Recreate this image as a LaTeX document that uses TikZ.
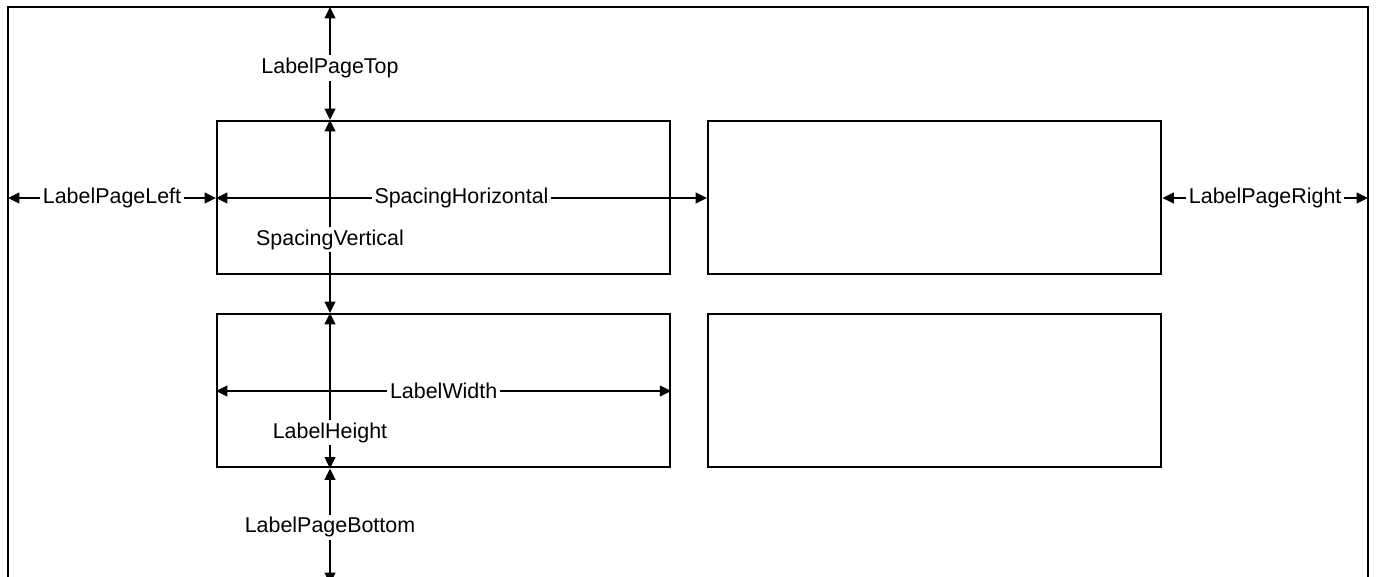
\documentclass[tikz,border=0pt]{standalone}
\usepackage{fontspec}
\setmainfont{Liberation Sans}
\usetikzlibrary{arrows.meta}
\tikzset{
  frame/.style={draw=black, line width=1.5pt},
  labelbox/.style={draw=black, line width=1.4pt, minimum width=9.06cm, minimum height=3.06cm, inner sep=0pt, anchor=north west},
  dim/.style={draw=black, line width=1.3pt, {Triangle[length=6.5pt,width=6pt]}-{Triangle[length=6.5pt,width=6pt]}},
  dimlab/.style={fill=white, inner sep=1.5pt, font=\fontsize{12.2}{14}\selectfont},
}
\begin{document}
\begin{tikzpicture}[x=0.02cm, y=-0.02cm]
  \useasboundingbox (0,0) rectangle (1376,576);
  \clip (0,0) rectangle (1376,576);
  % page
  \draw[frame] (8,7) rectangle (1368,584);
  % labels on the sheet
  \node[labelbox] (b11) at (216,120) {};
  \node[labelbox] (b12) at (707,120) {};
  \node[labelbox] (b21) at (216,313) {};
  \node[labelbox] (b22) at (707,313) {};
  % page edges
  \coordinate (pgtop) at (330,7);
  \coordinate (pgbot) at (330,584);
  \coordinate (pgleft) at (8,198);
  \coordinate (pgright) at (1368,198);
  \coordinate (vx) at (330,0);
  \coordinate (wy) at (0,391);
  % vertical measures
  \draw[dim] (pgtop) -- node[dimlab, pos=0.54] {LabelPageTop} (b11.north -| vx);
  \draw[dim] (b11.north -| vx) -- node[dimlab, pos=0.62] {SpacingVertical} (b21.north -| vx);
  \draw[dim] (b21.north -| vx) -- node[dimlab, pos=0.77] {LabelHeight} (b21.south -| vx);
  \draw[dim] (b21.south -| vx) -- node[dimlab, pos=0.51] {LabelPageBottom} (pgbot);
  % horizontal measures
  \draw[dim] (pgleft) -- node[dimlab] {LabelPageLeft} (b11.west |- pgleft);
  \draw[dim] (b11.west |- pgleft) -- node[dimlab] {SpacingHorizontal} (b12.west |- pgleft);
  \draw[dim] (b12.east |- pgright) -- node[dimlab] {LabelPageRight} (pgright);
  \draw[dim] (b21.west |- wy) -- node[dimlab] {LabelWidth} (b21.east |- wy);
\end{tikzpicture}
\end{document}
